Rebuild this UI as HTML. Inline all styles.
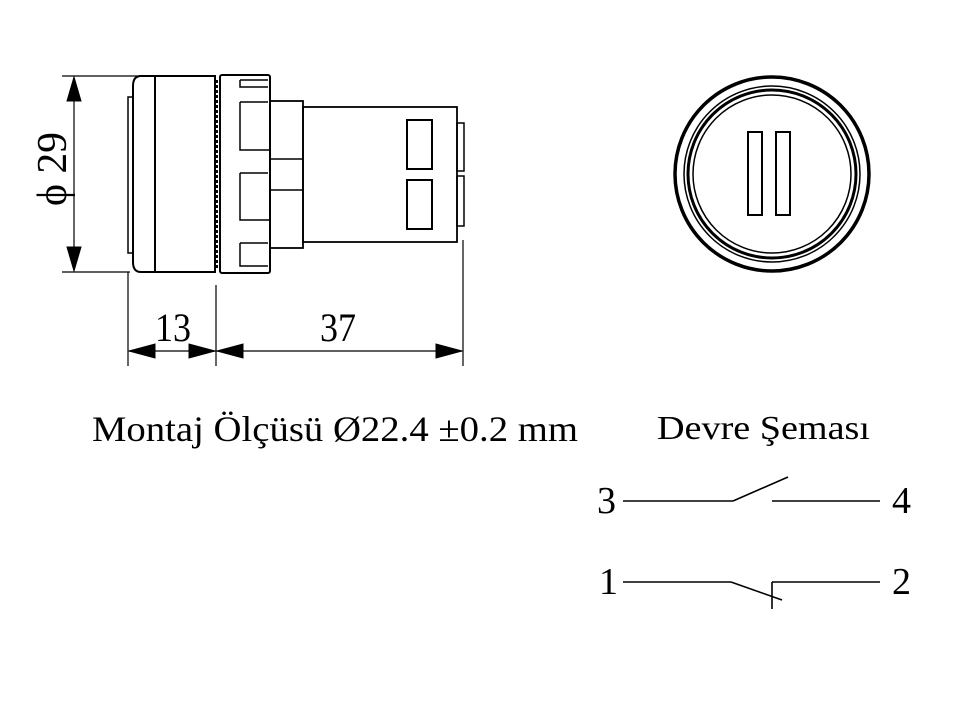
<!DOCTYPE html>
<html><head><meta charset="utf-8"><style>html,body{margin:0;padding:0;background:#fff}svg{display:block}</style></head>
<body>
<svg width="962" height="725" viewBox="0 0 962 725" xmlns="http://www.w3.org/2000/svg" font-family="Liberation Serif, serif" fill="none" stroke="#000">
<!-- diameter dimension -->
<line x1="62" y1="76" x2="140" y2="76" stroke-width="1.2"/>
<line x1="62" y1="272" x2="130" y2="272" stroke-width="1.2"/>
<line x1="74" y1="78" x2="74" y2="270" stroke-width="1.2"/>
<polygon points="74,77 67,101 81,101" fill="#000"/>
<polygon points="74,271 67,247 81,247" fill="#000"/>
<text x="0" y="0" transform="translate(66,206) rotate(-90)" font-size="42" textLength="74" lengthAdjust="spacingAndGlyphs" fill="#000" stroke="none">ϕ 29</text>
<!-- cap -->
<path d="M141,76 H215 V272 H141 Q133,272 133,262 V86 Q133,76 141,76 Z" stroke-width="2"/>
<line x1="155" y1="77" x2="155" y2="271" stroke-width="2"/>
<rect x="128" y="97" width="5" height="156" stroke-width="1.5"/>
<!-- nut -->
<rect x="220" y="75" width="50" height="198" rx="2" stroke-width="2"/>
<line x1="217" y1="80" x2="217" y2="268" stroke-width="2" stroke-dasharray="3,2"/>
<g stroke-width="1.5">
<path d="M240,80 H268 M240,80 V87 H268"/>
<path d="M240,102 H268 M240,102 V150 H270"/>
<path d="M240,173 H268 M240,173 V220 H270"/>
<path d="M240,243 H268 M240,243 V266 H268"/>
</g>
<!-- neck -->
<rect x="270" y="101" width="33" height="147" stroke-width="1.8"/>
<line x1="270" y1="159" x2="303" y2="159" stroke-width="1.5"/>
<line x1="270" y1="190" x2="303" y2="190" stroke-width="1.5"/>
<!-- body -->
<rect x="303" y="107" width="154" height="135" stroke-width="1.8"/>
<rect x="407" y="120" width="25" height="49" stroke-width="2"/>
<rect x="407" y="180" width="25" height="49" stroke-width="2"/>
<rect x="457" y="123" width="7" height="48" stroke-width="1.5"/>
<rect x="457" y="176" width="7" height="50" stroke-width="1.5"/>
<!-- length dims -->
<line x1="128" y1="272" x2="128" y2="366" stroke-width="1.2"/>
<line x1="216" y1="285" x2="216" y2="366" stroke-width="1.2"/>
<line x1="463" y1="240" x2="463" y2="366" stroke-width="1.2"/>
<line x1="129" y1="351" x2="462" y2="351" stroke-width="1.2"/>
<polygon points="129,351 155,344 155,358" fill="#000"/>
<polygon points="215,351 189,344 189,358" fill="#000"/>
<polygon points="217,351 243,344 243,358" fill="#000"/>
<polygon points="462,351 436,344 436,358" fill="#000"/>
<text x="155" y="341" font-size="40" textLength="36" lengthAdjust="spacingAndGlyphs" fill="#000" stroke="none">13</text>
<text x="320" y="341" font-size="40" textLength="36" lengthAdjust="spacingAndGlyphs" fill="#000" stroke="none">37</text>
<!-- front view -->
<circle cx="772" cy="174" r="97" stroke-width="3.5"/>
<circle cx="772" cy="174" r="88" stroke-width="1.5"/>
<circle cx="772" cy="174" r="84" stroke-width="3"/>
<circle cx="772" cy="174" r="79" stroke-width="1.5"/>
<rect x="748" y="132" width="14" height="83" stroke-width="2"/>
<rect x="776" y="132" width="14" height="83" stroke-width="2"/>
<!-- texts -->
<text x="92" y="441" font-size="36" textLength="486" lengthAdjust="spacingAndGlyphs" fill="#000" stroke="none">Montaj Ölçüsü Ø22.4 ±0.2 mm</text>
<text x="657" y="439" font-size="34" textLength="213" lengthAdjust="spacingAndGlyphs" fill="#000" stroke="none">Devre Şeması</text>
<!-- switches -->
<g stroke-width="1.6">
<line x1="623" y1="501" x2="733" y2="501"/>
<line x1="733" y1="501" x2="788" y2="477"/>
<line x1="772" y1="501" x2="880" y2="501"/>
<line x1="623" y1="582" x2="731" y2="582"/>
<line x1="731" y1="582" x2="782" y2="600"/>
<line x1="772" y1="582" x2="772" y2="609"/>
<line x1="772" y1="582" x2="880" y2="582"/>
</g>
<g font-size="38" fill="#000" stroke="none">
<text x="597" y="513">3</text>
<text x="892" y="513">4</text>
<text x="599" y="594">1</text>
<text x="892" y="594">2</text>
</g>
</svg>
</body></html>
